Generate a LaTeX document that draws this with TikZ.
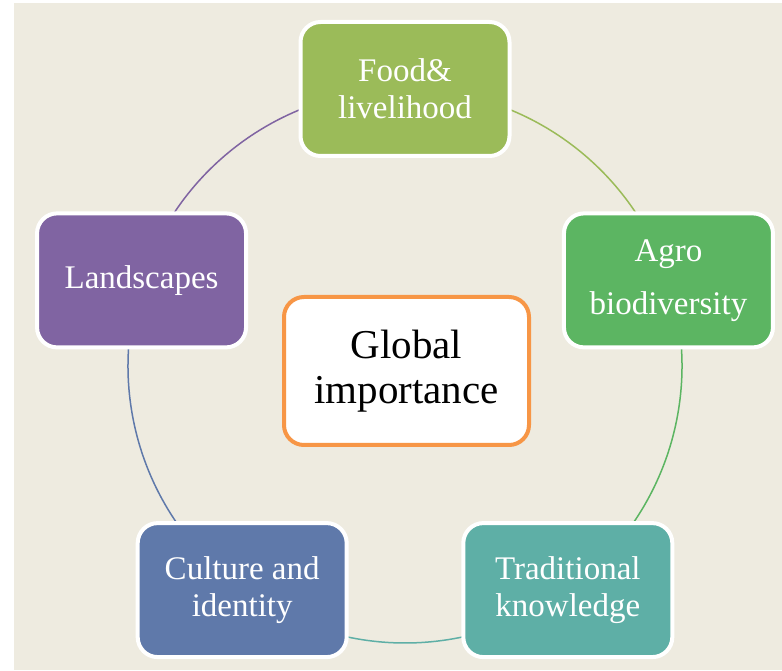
\documentclass[tikz,border=0pt]{standalone}
\usepackage{fontspec}
\setmainfont{Liberation Serif}
\usetikzlibrary{backgrounds,calc}
\definecolor{bgc}{HTML}{EEEBE0}
\definecolor{cfood}{HTML}{9BBB59}
\definecolor{cagro}{HTML}{5CB562}
\definecolor{ctrad}{HTML}{5EAFA6}
\definecolor{ccult}{HTML}{5F79AA}
\definecolor{cland}{HTML}{8064A2}
\definecolor{corange}{HTML}{F79646}
\tikzset{
  petal/.style={draw=white, line width=4pt, rounded corners=20pt,
    minimum width=209pt, minimum height=134pt, text=white, align=center,
    font=\fontsize{33}{37}\selectfont, inner sep=0pt},
  hub/.style={draw=corange, fill=white, line width=4pt, rounded corners=20pt,
    minimum width=245pt, minimum height=148pt, text=black, align=center,
    font=\fontsize{41}{45}\selectfont, inner sep=0pt},
  ring/.style={line width=1.5pt}
}
\begin{document}
\begin{tikzpicture}[x=1pt,y=1pt]
\useasboundingbox (0,0) rectangle (782,670);
\coordinate (cc) at (405,304);
\node[petal, fill=cfood] (food) at ($(cc)+(90:277)$) {Food\&\\livelihood};
\node[petal, fill=cagro, font=\fontsize{33}{53}\selectfont] (agro) at ($(cc)+(18:277)$) {Agro\\biodiversity};
\node[petal, fill=ctrad] (trad) at ($(cc)+(306:277)$) {Traditional\\knowledge};
\node[petal, fill=ccult] (cult) at ($(cc)+(234:277)$) {Culture and\\identity};
\node[petal, fill=cland] (land) at ($(cc)+(162:277)$) {Landscapes};
\node[hub] (hub) at (406.5,299) {Global\\importance};
\begin{pgfonlayer}{background}
\fill[white] (0,0) rectangle (782,670);
\fill[bgc] (14,0) rectangle (782,667);
\draw[ring, cfood] (food.center) arc[start angle=90, end angle=18, radius=277];
\draw[ring, cagro] (agro.center) arc[start angle=18, end angle=-54, radius=277];
\draw[ring, ctrad] (trad.center) arc[start angle=-54, end angle=-126, radius=277];
\draw[ring, ccult] (cult.center) arc[start angle=-126, end angle=-198, radius=277];
\draw[ring, cland] (land.center) arc[start angle=162, end angle=90, radius=277];
\end{pgfonlayer}
\end{tikzpicture}
\end{document}
